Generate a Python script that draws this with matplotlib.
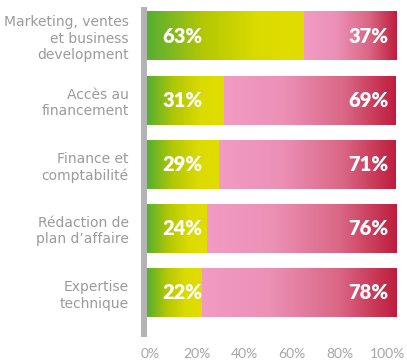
import numpy as np
import matplotlib.pyplot as plt
from matplotlib.colors import LinearSegmentedColormap

# data
categories = ["Marketing, ventes\net business\ndevelopment", "Accès au\nfinancement",
              "Finance et\ncomptabilité", "Rédaction de\nplan d\u2019affaire", "Expertise\ntechnique"]
oui = [63, 31, 29, 24, 22]
non = [37, 69, 71, 76, 78]
tick_labels = ["0%", "20%", "40%", "60%", "80%", "100%"]

green = LinearSegmentedColormap.from_list("g", [(0, "#55ae32"), (0.35, "#b2c704"), (0.7, "#dbdb00"), (1, "#e1dd00")])
pink = LinearSegmentedColormap.from_list("p", [(0, "#f29bc3"), (0.35, "#ec90b6"), (0.7, "#da6785"), (1, "#bf1d3d")])
grad = np.linspace(0, 1, 256).reshape(1, -1)

fig = plt.figure(figsize=(4.07, 3.61), dpi=100)
ax = fig.add_axes([147/407, 27/361, 249/407, 324/361])

h = 0.76
for i in range(len(categories)):
    ax.imshow(grad, cmap=green, aspect="auto", extent=[0, oui[i], i + h/2, i - h/2], zorder=2)
    ax.imshow(grad, cmap=pink, aspect="auto", extent=[oui[i], 100, i + h/2, i - h/2], zorder=2)
    ax.text(6.3, i, f"{oui[i]}%", color="white", fontsize=14.5, fontweight="heavy",
            family="Lato", ha="left", va="center", zorder=3)
    ax.text(97, i, f"{non[i]}%", color="white", fontsize=14.5, fontweight="heavy",
            family="Lato", ha="right", va="center", zorder=3)

ax.set_xlim(0, 100)
ax.set_ylim(4.64, -0.405)
ax.set_yticks(range(len(categories)))
ax.set_yticklabels(categories, family="Lato", fontsize=10.2, linespacing=1.3)
ax.set_xticks(np.linspace(1.2, 96.4, 6))
ax.set_xticklabels(tick_labels, family="Lato", fontsize=10)
ax.tick_params(length=0)
ax.tick_params(axis="y", pad=11, labelcolor="#9b9b9b")
ax.tick_params(axis="x", pad=10, labelcolor="#a6a6a6")

for s in ["top", "right", "bottom"]:
    ax.spines[s].set_visible(False)
ax.spines["left"].set_color("#b3b3b3")
ax.spines["left"].set_linewidth(4.3)
ax.spines["left"].set_position(("outward", 2.2))

fig.savefig("out.png", dpi=100)
